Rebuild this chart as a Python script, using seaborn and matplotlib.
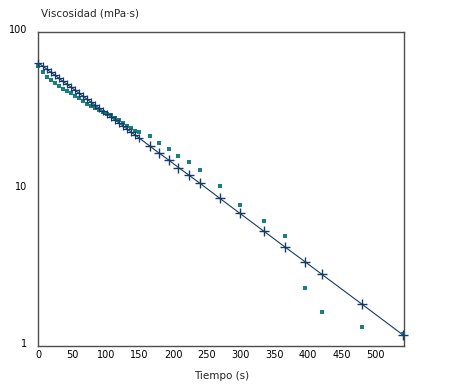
import numpy as np
import pandas as pd
import matplotlib
matplotlib.use('Agg')
import matplotlib.pyplot as plt
import matplotlib.transforms as mtransforms
import seaborn as sns

# ## data
tiempo = [0, 6, 12, 18, 24, 30, 36, 42, 48, 54, 60, 66, 72, 78, 84, 90, 96, 102,
          108, 114, 120, 126, 132, 138, 144, 150,
          165, 178.6, 193.5, 208, 223, 239.6, 269, 299, 335, 366, 396, 421, 481, 541]

# measured viscosity (teal squares)
visc_medida = [61, 56, 52, 49.5, 47, 45, 43.5, 42, 40.8, 39.2, 37.8, 36.2, 35, 33.8,
               32.7, 31.8, 31, 30.2, 29.4, 28.4, 27.4, 26.4, 25.3, 24.3, 23.5, 23.0,
               21.8, 19.6, 18.0, 16.2, 14.9, 13.2, 10.45, 7.9, 6.25, 5.0, 2.34, 1.65,
               1.32, 1.19]

# fitted viscosity (crosses + line)
visc_ajuste = [63.5, 60.76, 58.14, 55.63, 53.22, 50.92, 48.72, 46.62, 44.61, 42.68,
               40.84, 39.07, 37.38, 35.77, 34.22, 32.75, 31.33, 29.98, 28.68, 27.44,
               26.26, 25.13, 24.04, 23.0, 22.01, 21.06,
               18.84, 17.0, 15.3, 13.7, 12.3, 10.9, 8.75, 7.01, 5.38, 4.28, 3.44,
               2.86, 1.84, 1.18]

df = pd.DataFrame({'t': tiempo, 'medida': visc_medida, 'ajuste': visc_ajuste})
denso = df.iloc[:26]
disperso = df.iloc[26:]

sns.set_style('white')
plt.rcParams['font.family'] = ['DejaVu Sans']

fig = plt.figure(figsize=(4.49, 3.88), dpi=100)
ax = fig.add_axes([0.0857, 0.1082, 0.8141, 0.8093])

teal = '#1b7f82'
navy = '#163c66'

sns.lineplot(data=df, x='t', y='ajuste', ax=ax, color=navy, linewidth=0.8)
sns.scatterplot(data=df, x='t', y='medida', ax=ax, color=teal, marker='s',
                s=7, linewidth=0, zorder=3, clip_on=False)
sns.scatterplot(data=denso, x='t', y='ajuste', ax=ax, color=navy, marker='+',
                s=28, linewidth=0.9, zorder=4, clip_on=False)
sns.scatterplot(data=disperso, x='t', y='ajuste', ax=ax, color=navy, marker='+',
                s=45, linewidth=1.0, zorder=4, clip_on=False)

ax.set_yscale('log')
ax.set_ylim(1, 100)
ax.set_xlim(0, 543)
ax.set_yticks([1, 10, 100])
ax.set_yticklabels(['1', '10', '100'])
ax.yaxis.set_minor_locator(matplotlib.ticker.NullLocator())
ax.set_xticks(np.arange(0, 501, 50))
ax.tick_params(axis='both', length=0, labelsize=7, colors='black', pad=3)
ax.tick_params(axis='y', pad=8)

# y labels sit a little above their ticks in the original
shift = mtransforms.ScaledTranslation(0, 3 / 100, fig.dpi_scale_trans)
for lab in ax.get_yticklabels():
    lab.set_transform(lab.get_transform() + shift)

for sp in ax.spines.values():
    sp.set_color('#4d4d4d')
    sp.set_linewidth(1)

ax.set_xlabel('Tiempo (s)', fontsize=7.5, labelpad=8)
ax.set_ylabel('')
fig.text(41 / 449, 1 - 13 / 388, 'Viscosidad (mPa·s)', fontsize=7.5, va='center', ha='left')

fig.savefig('out.png', dpi=100)
